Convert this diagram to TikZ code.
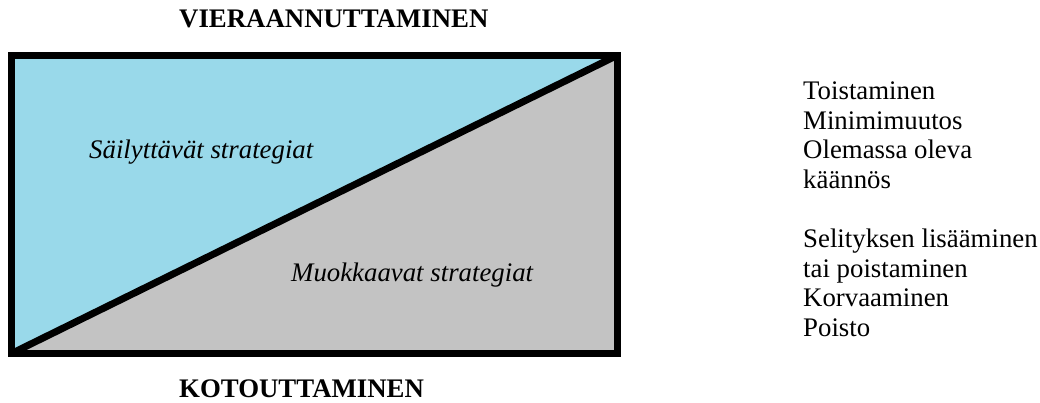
\documentclass[tikz,border=0pt]{standalone}
\usepackage{fontspec}
\setmainfont{Liberation Serif}
\definecolor{sky}{HTML}{99D9EA}
\definecolor{greyfill}{HTML}{C3C3C3}
\tikzset{
  lbl/.style={inner sep=0pt, anchor=base west, font=\fontsize{26.8}{30}\selectfont},
  frame/.style={line width=7pt, draw=black},
}
\begin{document}
\begin{tikzpicture}[x=1pt,y=-1pt]
\useasboundingbox (0,0) rectangle (1040,403);
\coordinate (tl) at (11.5,55.5);
\coordinate (tr) at (617,55.5);
\coordinate (bl) at (11.5,353.5);
\coordinate (br) at (617,353.5);
\fill[sky] (tl) -- (tr) -- (bl) -- cycle;
\fill[greyfill] (bl) -- (tr) -- (br) -- cycle;
\begin{scope}
\clip (tl) rectangle (br);
\draw[frame] (bl) -- (tr);
\end{scope}
\draw[frame] (tl) rectangle (br);
\node[lbl, font=\fontsize{26.8}{30}\selectfont\bfseries] (top) at (179,28) {VIERAANNUTTAMINEN};
\node[lbl, font=\fontsize{26.8}{30}\selectfont\bfseries] (bottom) at (179,397) {KOTOUTTAMINEN};
\node[lbl, font=\fontsize{26.8}{30}\selectfont\itshape] (keep) at (89,159) {Säilyttävät strategiat};
\node[lbl, font=\fontsize{26.8}{30}\selectfont\itshape] (mod) at (291,281) {Muokkaavat strategiat};
\foreach \t [count=\i from 0] in {Toistaminen,Minimimuutos,Olemassa oleva,käännös}
  \node[lbl] (a\i) at (803,99.5+29.6*\i) {\t};
\foreach \t [count=\i from 5] in {Selityksen lisääminen,tai poistaminen,Korvaaminen,Poisto}
  \node[lbl] (b\i) at (803,99.5+29.6*\i) {\t};
\end{tikzpicture}
\end{document}
